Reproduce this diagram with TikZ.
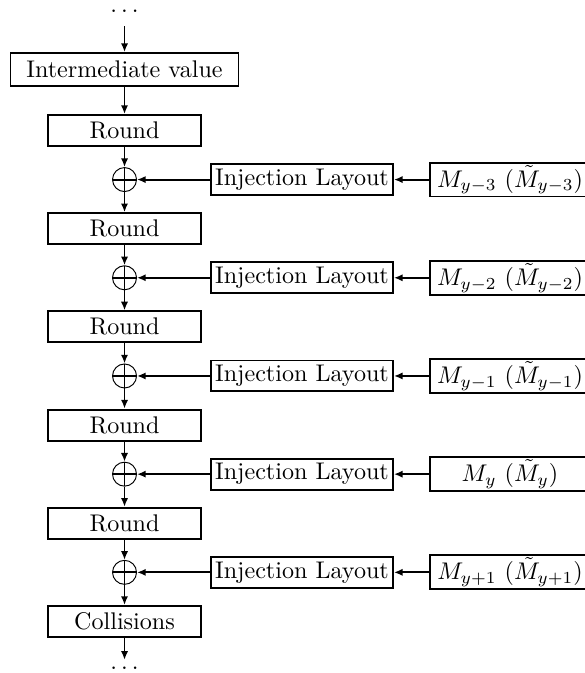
\documentclass[tikz,border=0pt]{standalone}
\usepackage{amsmath}
\usepackage{amssymb}
\usetikzlibrary{arrows.meta}

\begin{document}
\begin{tikzpicture}[
		stagebox/.style={draw, thick, inner sep=1pt, minimum width=2.231cm, minimum height=0.452cm},
		injbox/.style={draw, thick, inner sep=1pt, minimum width=2.654cm, minimum height=0.452cm},
		msgbox/.style={draw, thick, inner sep=1pt, minimum width=2.333cm, minimum height=0.452cm},
		xornode/.style={draw, circle, inner sep=0pt, minimum size=0.35cm,
			path picture={\draw[thick] (path picture bounding box.north) -- (path picture bounding box.south)
				(path picture bounding box.west) -- (path picture bounding box.east);}},
		flow/.style={-{Latex[length=3.6pt,width=3pt]}, thick},
		dotsnode/.style={inner sep=0pt, anchor=base}
	]
				% Frame of the picture
				\useasboundingbox (0,0) rectangle (8.517,-9.815);
				
				% Main chain
				\node[dotsnode] (topdots) at (1.816,-0.175) {$\ldots$};
				\node[stagebox, minimum width=3.325cm, minimum height=0.481cm] (inter) at (1.816,-1.014) {Intermediate value};
				\node[stagebox] (r1) at (1.816,-1.903) {Round};
				\node[xornode] (x1) at (1.816,-2.619) {};
				\node[stagebox] (r2) at (1.816,-3.335) {Round};
				\node[xornode] (x2) at (1.816,-4.051) {};
				\node[stagebox] (r3) at (1.816,-4.767) {Round};
				\node[xornode] (x3) at (1.816,-5.483) {};
				\node[stagebox] (r4) at (1.816,-6.199) {Round};
				\node[xornode] (x4) at (1.816,-6.915) {};
				\node[stagebox] (r5) at (1.816,-7.631) {Round};
				\node[xornode] (x5) at (1.816,-8.347) {};
				\node[stagebox] (coll) at (1.816,-9.063) {Collisions};
				\node[dotsnode] (botdots) at (1.816,-9.757) {$\ldots$};
				
				% Injection layouts
				\node[injbox] (inj1) at (4.404,-2.619) {Injection Layout};
				\node[injbox] (inj2) at (4.404,-4.051) {Injection Layout};
				\node[injbox] (inj3) at (4.404,-5.483) {Injection Layout};
				\node[injbox] (inj4) at (4.404,-6.915) {Injection Layout};
				\node[injbox] (inj5) at (4.404,-8.347) {Injection Layout};
				
				% Message words
				\node[msgbox] (m1) at (7.438,-2.619) {$M_{y-3}\ (\tilde{M}_{y-3})$};
				\node[msgbox] (m2) at (7.438,-4.051) {$M_{y-2}\ (\tilde{M}_{y-2})$};
				\node[msgbox] (m3) at (7.438,-5.483) {$M_{y-1}\ (\tilde{M}_{y-1})$};
				\node[msgbox] (m4) at (7.438,-6.915) {$M_{y}\ (\tilde{M}_{y})$};
				\node[msgbox] (m5) at (7.438,-8.347) {$M_{y+1}\ (\tilde{M}_{y+1})$};
				
				% Vertical flow
				\draw[flow, shorten <=0.2cm] (topdots) -- (inter);
				\draw[flow] (inter) -- (r1);
				\draw[flow] (r1) -- (x1);
				\draw[flow] (x1) -- (r2);
				\draw[flow] (r2) -- (x2);
				\draw[flow] (x2) -- (r3);
				\draw[flow] (r3) -- (x3);
				\draw[flow] (x3) -- (r4);
				\draw[flow] (r4) -- (x4);
				\draw[flow] (x4) -- (r5);
				\draw[flow] (r5) -- (x5);
				\draw[flow] (x5) -- (coll);
				\draw[flow, shorten >=0.09cm] (coll) -- (botdots);
				
				% Injections
				\draw[flow] (m1) -- (inj1);
				\draw[flow] (m2) -- (inj2);
				\draw[flow] (m3) -- (inj3);
				\draw[flow] (m4) -- (inj4);
				\draw[flow] (m5) -- (inj5);
				\draw[flow] (inj1) -- (x1);
				\draw[flow] (inj2) -- (x2);
				\draw[flow] (inj3) -- (x3);
				\draw[flow] (inj4) -- (x4);
				\draw[flow] (inj5) -- (x5);
				
			\end{tikzpicture}
\end{document}
